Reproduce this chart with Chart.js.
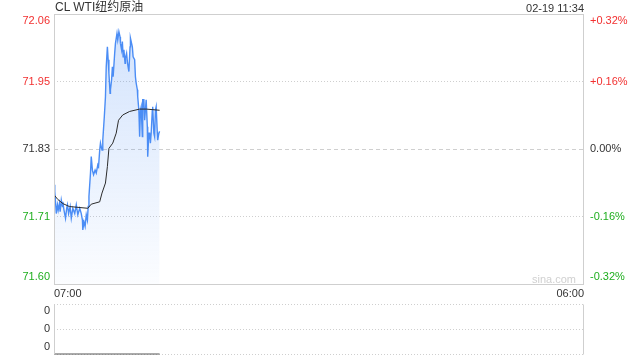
<!DOCTYPE html>
<html>
<head>
<meta charset="utf-8">
<script src="https://cdn.jsdelivr.net/npm/chart.js@4"></script>
<style>
  html, body { margin: 0; padding: 0; background: #fff; }
  #wrap { position: relative; width: 640px; height: 360px; overflow: hidden; font-family: Arial, "Liberation Sans", "Noto Sans CJK SC", sans-serif; }
  #main { position: absolute; left: 0; top: 0; }
  #vol { position: absolute; left: 0; top: 300px; }
  .txt { position: absolute; color: #333; white-space: nowrap; }
  #title { left: 55px; top: 0px; font-size: 12px; line-height: 15px; }
  #stamp { right: 56px; top: 1px; font-size: 11px; line-height: 14px; }
  #mark { left: 532px; top: 272px; font-size: 11px; line-height: 14px; color: #d0d0d0; }
</style>
</head>
<body>
<div id="wrap">
  <canvas id="main" width="640" height="302"></canvas>
  <canvas id="vol" width="640" height="60"></canvas>
  <div class="txt" id="title">CL WTI纽约原油</div>
  <div class="txt" id="stamp">02-19 11:34</div>
  <div class="txt" id="mark">sina.com</div>
</div>
<script>
// 分时价格（分钟偏移，从 07:00 起）
const minutes = [0, 2, 3, 6, 9, 11, 14, 16, 19, 22, 23, 26, 30, 33, 35, 38, 42, 45, 49, 54,
  58, 62, 67, 71, 74, 75, 78, 81, 84, 87, 89, 91, 95, 97, 100, 103, 107, 110, 114, 116,
  119, 121, 125, 127, 131, 134, 136, 139, 141, 143, 146, 147, 150, 152, 154, 158, 160, 164, 166, 169,
  172, 173, 176, 178, 180, 182, 185, 186, 189, 191, 193, 195, 198, 199, 202, 204, 206, 210, 212, 214,
  217, 218, 221, 223, 225, 227, 230, 231, 234, 236, 238, 240, 243, 244, 247, 249, 251, 253, 256, 257,
  260, 262, 264, 266, 269, 270, 273, 275];
const prices = [71.769, 71.757, 71.749, 71.720, 71.735, 71.726, 71.737, 71.723, 71.743, 71.732, 71.740, 71.726, 71.712, 71.729, 71.735, 71.720, 71.732, 71.712, 71.729, 71.720,
  71.735, 71.718, 71.729, 71.720, 71.709, 71.692, 71.706, 71.698, 71.718, 71.709, 71.732, 71.749, 71.789, 71.817, 71.794, 71.786, 71.794, 71.789, 71.803, 71.800,
  71.828, 71.840, 71.828, 71.845, 71.885, 71.919, 71.970, 72.004, 71.982, 71.959, 71.925, 71.931, 71.948, 71.970, 71.953, 71.993, 72.010, 72.027, 72.016, 72.030,
  72.021, 72.010, 71.999, 72.013, 71.987, 71.999, 71.976, 71.985, 71.993, 71.979, 71.970, 71.962, 72.004, 72.019, 72.010, 72.004, 71.987, 71.982, 71.953, 71.942,
  71.931, 71.919, 71.896, 71.851, 71.896, 71.902, 71.851, 71.914, 71.914, 71.879, 71.896, 71.914, 71.868, 71.817, 71.857, 71.857, 71.840, 71.857, 71.896, 71.902,
  71.857, 71.851, 71.896, 71.902, 71.857, 71.845, 71.857, 71.860];

// 均价线
const avgMinutes = [0, 10, 23, 40, 88, 97, 119, 125, 134, 139, 143, 153, 162, 168, 179, 197, 223, 240, 275];
const avgPrices = [71.752, 71.744, 71.737, 71.732, 71.729, 71.736, 71.740, 71.755, 71.772, 71.800, 71.831, 71.840, 71.857, 71.879, 71.888, 71.894, 71.898, 71.898, 71.896];

// 成交量（全为 0）
const volMinutes = [0, 275];
const volumes = [0, 0];

// 刻度
const yTickValues = [71.60, 71.715, 71.83, 71.945, 72.06];
const yTickLabels = ['71.60', '71.71', '71.83', '71.95', '72.06'];
const pctTickLabels = ['-0.32%', '-0.16%', '0.00%', '+0.16%', '+0.32%'];
const xTickValues = [0, 1380];
const xTickLabels = ['07:00', '06:00'];
const volTickValues = [0, 1, 2];
const volTickLabels = ['0', '0', '0'];

Chart.defaults.font.family = 'Arial, "Liberation Sans", sans-serif';
Chart.defaults.font.size = 11;
Chart.defaults.color = '#333';

const RED = '#f23030', GREEN = '#1fae1f', GRID = '#cfcfcf';

// 首尾标签往里挪半行
function edgeLabel(lbl, i, n) {
  if (i === 0) return [lbl, ''];
  if (i === n - 1) return ['', lbl];
  return lbl;
}
function tickColor(ctx) {
  if (ctx.index < 2) return GREEN;
  if (ctx.index > 2) return RED;
  return '#333';
}

const frame = {
  id: 'frame',
  afterDraw(chart, args, opts) {
    const { ctx, chartArea: a } = chart;
    ctx.save();
    ctx.strokeStyle = GRID;
    ctx.lineWidth = 1;
    ctx.beginPath();
    ctx.moveTo(a.left + 0.5, a.top + 0.5);
    ctx.lineTo(a.left + 0.5, a.bottom + 0.5);
    ctx.moveTo(a.right - 0.5, a.top + 0.5);
    ctx.lineTo(a.right - 0.5, a.bottom + 0.5);
    if (opts.full) {
      ctx.moveTo(a.left, a.top + 0.5);
      ctx.lineTo(a.right, a.top + 0.5);
      ctx.moveTo(a.left, a.bottom + 0.5);
      ctx.lineTo(a.right, a.bottom + 0.5);
    }
    ctx.stroke();
    ctx.restore();
  }
};

new Chart(document.getElementById('main'), {
  type: 'line',
  data: {
    datasets: [{
      data: avgMinutes.map((m, i) => ({ x: m, y: avgPrices[i] })),
      borderColor: '#2b2b2b',
      borderWidth: 1,
      pointRadius: 0,
      fill: false
    }, {
      data: minutes.map((m, i) => ({ x: m, y: prices[i] })),
      borderColor: '#4b8df5',
      borderWidth: 1.4,
      pointRadius: 0,
      fill: 'start',
      backgroundColor: (ctx) => {
        const ca = ctx.chart.chartArea;
        if (!ca) return 'rgba(75,141,245,0.1)';
        const g = ctx.chart.ctx.createLinearGradient(0, ca.top, 0, ca.bottom);
        g.addColorStop(0, 'rgba(75,141,245,0.26)');
        g.addColorStop(1, 'rgba(75,141,245,0.02)');
        return g;
      }
    }]
  },
  options: {
    responsive: false,
    animation: false,
    layout: { padding: { top: 14, left: 0, right: 0, bottom: 0 } },
    plugins: { legend: { display: false }, tooltip: { enabled: false }, frame: { full: true } },
    scales: {
      x: {
        type: 'linear',
        min: 0,
        max: 1380,
        afterBuildTicks: (s) => { s.ticks = xTickValues.map(v => ({ value: v })); },
        afterFit: (s) => { s.height = 18; s.paddingLeft = 0; s.paddingRight = 0; },
        grid: { display: false, drawTicks: false },
        border: { display: false },
        ticks: {
          autoSkip: false,
          maxRotation: 0,
          align: 'inner',
          padding: 3,
          color: '#333',
          callback: (v, i) => xTickLabels[i]
        }
      },
      y: {
        position: 'left',
        min: 71.60,
        max: 72.06,
        afterBuildTicks: (s) => { s.ticks = yTickValues.map(v => ({ value: v })); },
        afterFit: (s) => { s.width = 54; s.paddingTop = 0; s.paddingBottom = 0; },
        grid: {
          drawTicks: false,
          color: (c) => (c.index === 0 || c.index === 4) ? 'rgba(0,0,0,0)' : GRID
        },
        border: { display: false, dash: (c) => c.index === 2 ? [4, 3] : [1, 2] },
        ticks: {
          autoSkip: false,
          padding: 4,
          color: tickColor,
          callback: (v, i) => edgeLabel(yTickLabels[i], i, yTickLabels.length)
        }
      },
      y2: {
        position: 'right',
        min: 71.60,
        max: 72.06,
        afterBuildTicks: (s) => { s.ticks = yTickValues.map(v => ({ value: v })); },
        afterFit: (s) => { s.width = 56; s.paddingTop = 0; s.paddingBottom = 0; },
        grid: { display: false, drawTicks: false },
        border: { display: false },
        ticks: {
          autoSkip: false,
          padding: 6,
          color: tickColor,
          callback: (v, i) => edgeLabel(pctTickLabels[i], i, pctTickLabels.length)
        }
      }
    }
  },
  plugins: [frame]
});

new Chart(document.getElementById('vol'), {
  type: 'line',
  data: {
    datasets: [{
      data: volMinutes.map((m, i) => ({ x: m, y: volumes[i] })),
      borderColor: '#555',
      borderWidth: 1,
      pointRadius: 0,
      fill: false,
      clip: false
    }]
  },
  options: {
    responsive: false,
    animation: false,
    layout: { padding: { top: 4, left: 0, right: 56, bottom: 6 } },
    plugins: { legend: { display: false }, tooltip: { enabled: false }, frame: { full: false } },
    scales: {
      x: { type: 'linear', min: 0, max: 1380, display: false },
      y: {
        min: 0,
        max: 2,
        afterBuildTicks: (s) => { s.ticks = volTickValues.map(v => ({ value: v })); },
        afterFit: (s) => { s.width = 54; s.paddingTop = 0; s.paddingBottom = 0; },
        grid: { drawTicks: false, color: GRID },
        border: { display: false, dash: [1, 2] },
        ticks: {
          autoSkip: false,
          padding: 4,
          color: '#333',
          callback: (v, i) => edgeLabel(volTickLabels[i], i, volTickLabels.length)
        }
      }
    }
  },
  plugins: [frame]
});
</script>
</body>
</html>
